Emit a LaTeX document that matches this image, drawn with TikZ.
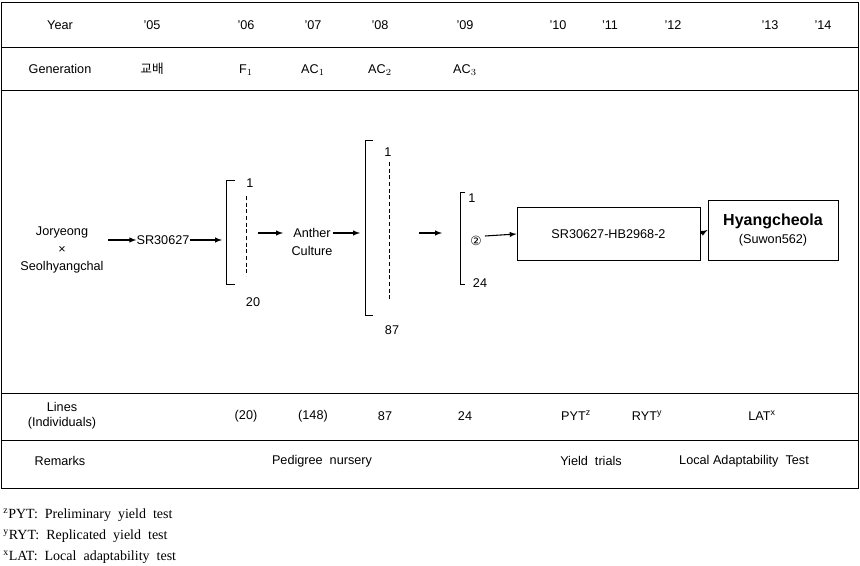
\documentclass[tikz,border=0pt]{standalone}
\usepackage{fontspec}
\setmainfont{Liberation Sans}
\newfontfamily\seriffont{Liberation Serif}
\newfontfamily\krfont{Noto Sans CJK KR}
\begin{document}
\begin{tikzpicture}[x=0.75pt,y=-0.75pt,
  t/.style={inner sep=0pt,font=\fontsize{9.5}{11}\selectfont},
  ln/.style={line width=0.6pt},
  ar/.style={-latex,line width=0.8pt},
  br/.style={line width=0.7pt},
  dl/.style={dashed,line width=0.5pt,dash pattern=on 3pt off 2pt}]
\useasboundingbox (0,0) rectangle (860,566);
\draw[ln] (1,2) rectangle (858,488);
\foreach \y in {47,90,393,440} \draw[ln] (1,\y) -- (858,\y);
% header
\node[t] (yr) at (60,25) {Year};
\foreach \x/\l/\n in {152/'05/a,246/'06/b,313/'07/c,380/'08/d,465/'09/e,558/'10/f,610/'11/g,673/'12/h,770/'13/i,823/'14/j}
  \node[t] (y\n) at (\x,25) {\l};
\node[t] (gen) at (60,69) {Generation};
\node[t] (g1) at (152,69) {\krfont 교배};
\node[t] (g2) at (246,70) {F$_1$};
\node[t] (g3) at (313,70) {AC$_1$};
\node[t] (g4) at (380,70) {AC$_2$};
\node[t] (g5) at (465,70) {AC$_3$};
% diagram
\node[t,align=center] (cross) at (62,250) {Joryeong\\[2pt]×\\[2pt]Seolhyangchal};
\node[t] (sr) at (163,240) {SR30627};
\draw[ar] (108,240) -- (sr.west);
\coordinate (b1) at (222,240);
\draw[ar] (sr.east) -- (b1);
\draw[br] (235,180) -- (226,180) -- (226,284) -- (235,284);
\node[t] (n1) at (250,183) {1};
\draw[dl] (246,196) -- (246,276);
\node[t] (n20) at (253,302) {20};
\node[t,align=center] (an) at (312,242) {Anther\\[2pt]Culture};
\coordinate (a1) at (258,233);
\draw[ar] (a1) -- (283,233);
\coordinate (a2) at (360,233);
\draw[ar] (an.east|-a2) -- (a2);
\draw[br] (373,140) -- (365,140) -- (365,315) -- (373,315);
\node[t] (m1) at (388,152) {1};
\draw[dl] (389,162) -- (389,300);
\node[t] (m87) at (392,330) {87};
\coordinate (c1) at (419,233);
\coordinate (c2) at (442,233);
\draw[ar] (c1) -- (c2);
\draw[br] (465,192) -- (460,192) -- (460,284) -- (465,284);
\node[t] (k1) at (472,198) {1};
\node[t] (k2) at (476,241) {\fontspec{DejaVu Sans}②};
\node[t] (k24) at (480,283) {24};
\node[draw,ln,minimum width=183*0.75pt,minimum height=53*0.75pt,t] (box1) at (608.5,234) {SR30627-HB2968-2};
\coordinate (d1) at (485,236);
\draw[ar] (d1) -- (box1.west);
\node[draw,ln,minimum width=130*0.75pt,minimum height=60*0.75pt,t,align=center] (box2) at (773,230) {{\fontsize{12}{14}\selectfont\bfseries Hyangcheola}\\[3pt](Suwon562)};
\draw[ar] (box1.east) -- (box2.west);
% lines row
\node[t,align=center] (lines) at (62,416) {Lines\\(Individuals)};
\node[t] (l1) at (246,416) {(20)};
\node[t] (l2) at (313,416) {(148)};
\node[t] (l3) at (385,416) {87};
\node[t] (l4) at (465,416) {24};
\node[t] (l5) at (576,416) {PYT\textsuperscript{z}};
\node[t] (l6) at (647,416) {RYT\textsuperscript{y}};
\node[t] (l7) at (762,416) {LAT\textsuperscript{x}};
\node[t] (rem) at (60,461) {Remarks};
\node[t] (r1) at (322,461) {Pedigree\ \ nursery};
\node[t] (r2) at (591,461) {Yield\ \ trials};
\node[t] (r3) at (744,461) {Local Adaptability\ \ Test};
\begin{scope}[every node/.style={inner sep=0pt,anchor=west,font=\seriffont\fontsize{10.5}{12}\selectfont}]
\node (f1) at (3,515) {\textsuperscript{z}PYT:\ \ Preliminary\ \ yield\ \ test};
\node (f2) at (3,536) {\textsuperscript{y}RYT:\ \ Replicated\ \ yield\ \ test};
\node (f3) at (3,557) {\textsuperscript{x}LAT:\ \ Local\ \ adaptability\ \ test};
\end{scope}
\end{tikzpicture}
\end{document}
